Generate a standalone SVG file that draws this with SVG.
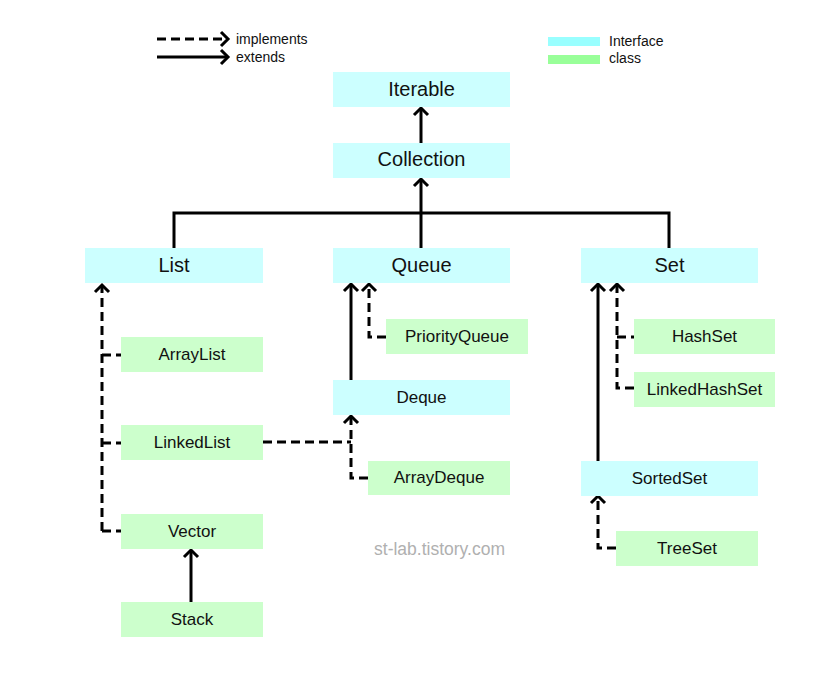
<svg xmlns="http://www.w3.org/2000/svg" width="813" height="692" viewBox="0 0 813 692">
<style>
.iface{fill:#ccffff}
.cls{fill:#ccffcc}
.big{font-family:"Liberation Sans",Arial,sans-serif;font-size:20px;fill:#111;text-anchor:middle}
.sm{font-family:"Liberation Sans",Arial,sans-serif;font-size:17px;fill:#111;text-anchor:middle}
.leg{font-family:"Liberation Sans",Arial,sans-serif;font-size:14px;fill:#111}
.solid{fill:none;stroke:#000;stroke-width:3}
.dash{fill:none;stroke:#000;stroke-width:3;stroke-dasharray:9 5}
.wm{font-family:"Liberation Sans",Arial,sans-serif;font-size:17.5px;fill:#b0b0b0;text-anchor:middle}
</style>
<defs>
<marker id="arr" markerUnits="userSpaceOnUse" markerWidth="20" markerHeight="20" viewBox="-10 -10 20 20" refX="0" refY="0" orient="auto" overflow="visible">
<path d="M-7,-7 L0,0 L-7,7" fill="none" stroke="#000" stroke-width="3" stroke-dasharray="none"/>
</marker>
</defs>
<rect width="813" height="692" fill="#fff"/>

<g id="legend">
<path class="dash" d="M157,39 H228" marker-end="url(#arr)"/>
<path class="solid" d="M157,57 H228" marker-end="url(#arr)"/>
<text class="leg" x="236" y="44">implements</text>
<text class="leg" x="236" y="62">extends</text>
<rect x="548" y="37" width="52" height="9" fill="#99ffff"/>
<rect x="548" y="55" width="52" height="9" fill="#99ff99"/>
<text class="leg" x="609" y="46">Interface</text>
<text class="leg" x="609" y="63">class</text>
</g>

<g id="connectors">
<path class="solid" d="M421,143 V108" marker-end="url(#arr)"/>
<path class="solid" d="M174,248 V213 H669 V248"/>
<path class="solid" d="M421,248 V179" marker-end="url(#arr)"/>
<path class="dash" d="M102,531 V285" marker-end="url(#arr)"/>
<path class="dash" d="M102,355 H121"/>
<path class="dash" d="M102,443 H121"/>
<path class="dash" d="M102,531 H121"/>
<path class="solid" d="M191,602 V550" marker-end="url(#arr)"/>
<path class="solid" d="M351,380 V284" marker-end="url(#arr)"/>
<path class="dash" d="M386,337 H369 V284" marker-end="url(#arr)"/>
<path class="dash" d="M263,442 H351"/>
<path class="dash" d="M368,478 H351 V416" marker-end="url(#arr)"/>
<path class="solid" d="M598,461 V284" marker-end="url(#arr)"/>
<path class="dash" d="M634,388 H617 V284" marker-end="url(#arr)"/>
<path class="dash" d="M617,337 H634"/>
<path class="dash" d="M616,548 H598 V496" marker-end="url(#arr)"/>
</g>

<g id="Iterable"><rect class="iface" x="333" y="72" width="177" height="35"/><text class="big" x="421.5" y="95.5">Iterable</text></g>
<g id="Collection"><rect class="iface" x="333" y="143" width="177" height="35"/><text class="big" x="421.5" y="166">Collection</text></g>
<g id="List"><rect class="iface" x="85" y="248" width="178" height="35"/><text class="big" x="174" y="272">List</text></g>
<g id="Queue"><rect class="iface" x="333" y="248" width="177" height="35"/><text class="big" x="421.5" y="272">Queue</text></g>
<g id="Set"><rect class="iface" x="581" y="248" width="177" height="35"/><text class="big" x="669.5" y="272">Set</text></g>

<g id="ArrayList"><rect class="cls" x="121" y="337" width="142" height="35"/><text class="sm" x="192" y="359.5">ArrayList</text></g>
<g id="LinkedList"><rect class="cls" x="121" y="425" width="142" height="35"/><text class="sm" x="192" y="447.5">LinkedList</text></g>
<g id="Vector"><rect class="cls" x="121" y="514" width="142" height="35"/><text class="sm" x="192" y="536.5">Vector</text></g>
<g id="Stack"><rect class="cls" x="121" y="602" width="142" height="35"/><text class="sm" x="192" y="624.5">Stack</text></g>

<g id="PriorityQueue"><rect class="cls" x="386" y="319" width="142" height="35"/><text class="sm" x="457" y="341.5">PriorityQueue</text></g>
<g id="Deque"><rect class="iface" x="333" y="380" width="177" height="35"/><text class="sm" x="421.5" y="402.5">Deque</text></g>
<g id="ArrayDeque"><rect class="cls" x="368" y="461" width="142" height="34"/><text class="sm" x="439" y="483">ArrayDeque</text></g>

<g id="HashSet"><rect class="cls" x="634" y="319" width="141" height="35"/><text class="sm" x="704.5" y="341.5">HashSet</text></g>
<g id="LinkedHashSet"><rect class="cls" x="634" y="372" width="141" height="35"/><text class="sm" x="704.5" y="394.5">LinkedHashSet</text></g>
<g id="SortedSet"><rect class="iface" x="581" y="461" width="177" height="35"/><text class="sm" x="669.5" y="483.5">SortedSet</text></g>
<g id="TreeSet"><rect class="cls" x="616" y="531" width="142" height="35"/><text class="sm" x="687" y="553.5">TreeSet</text></g>

<text class="wm" x="439.5" y="555">st-lab.tistory.com</text>
</svg>
